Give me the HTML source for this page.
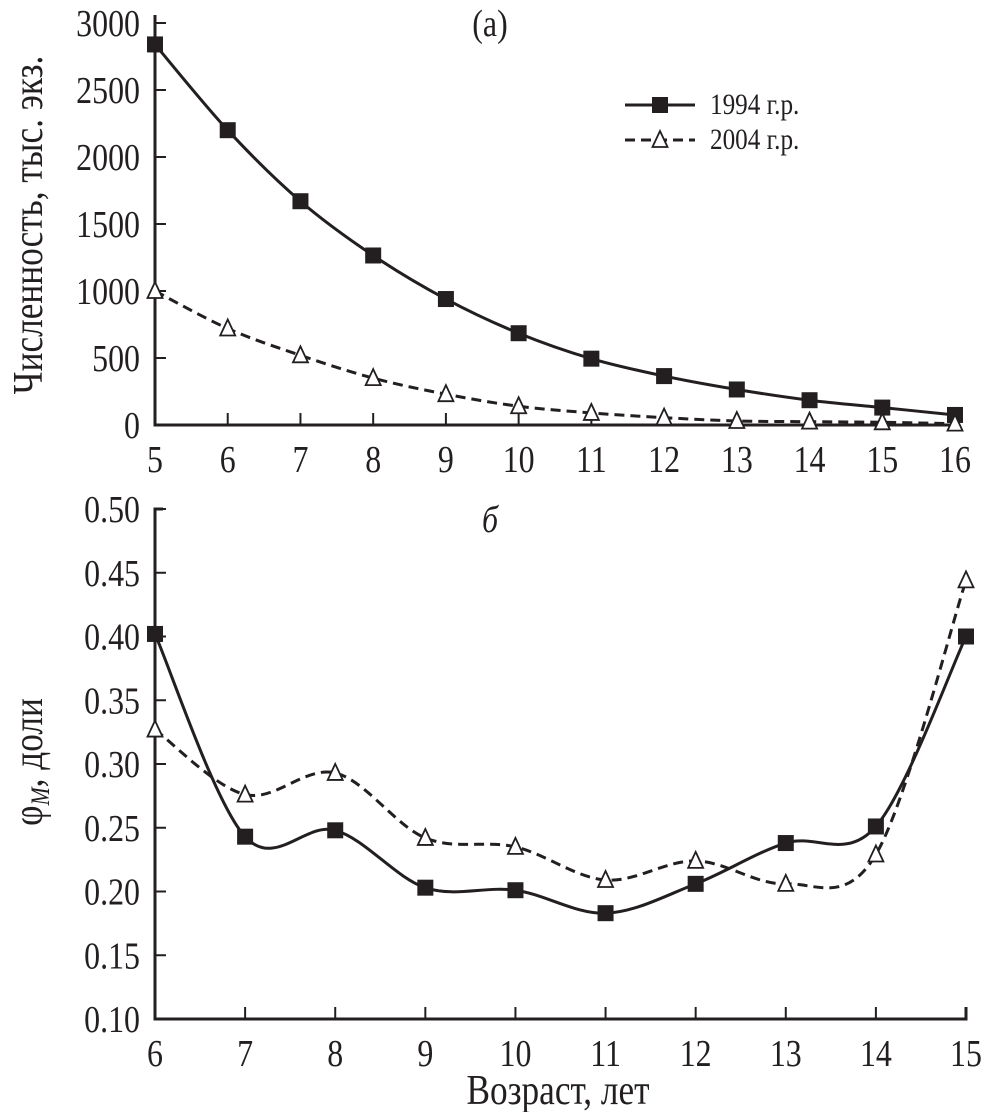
<!DOCTYPE html>
<html><head><meta charset="utf-8"><style>
body{margin:0;background:#fff}
svg text{font-family:"Liberation Serif",serif;fill:#231f20}
</style></head><body>
<svg id="c" width="986" height="1112" xmlns="http://www.w3.org/2000/svg"></svg>
<script>
const topAges=[5,6,7,8,9,10,11,12,13,14,15,16];
const topS1994=[2840,2200,1670,1265,940,685,495,365,265,185,130,75];
const topS2004=[1000,720,520,350,230,140,90,55,30,25,20,10];
const topYTicks=[0,500,1000,1500,2000,2500,3000];
const botAges=[6,7,8,9,10,11,12,13,14,15];
const bot1994=[0.402,0.243,0.248,0.203,0.201,0.183,0.206,0.238,0.251,0.400];
const bot2004=[0.327,0.276,0.293,0.242,0.235,0.209,0.224,0.206,0.229,0.444];
const botYTicks=[0.10,0.15,0.20,0.25,0.30,0.35,0.40,0.45,0.50];

const svg=document.getElementById('c');
const NS='http://www.w3.org/2000/svg';
function mk(t,a,p){const e=document.createElementNS(NS,t);for(const k in a)e.setAttribute(k,a[k]);(p||svg).appendChild(e);return e;}
function txt(s,x,y,size,anchor,extra,rot){const tr='translate('+x+','+y+')'+(rot?' rotate(-90)':'')+' scale(0.84,1)';const e=mk('text',Object.assign({x:0,y:0,transform:tr,'font-size':size,'text-anchor':anchor||'middle'},extra||{}));e.textContent=s;return e;}
function smooth(pts){let d='M'+pts[0][0]+','+pts[0][1];for(let i=0;i<pts.length-1;i++){const p0=pts[i-1]||pts[i],p1=pts[i],p2=pts[i+1],p3=pts[i+2]||p2;const c1=[p1[0]+(p2[0]-p0[0])/6,p1[1]+(p2[1]-p0[1])/6],c2=[p2[0]-(p3[0]-p1[0])/6,p2[1]-(p3[1]-p1[1])/6];d+=' C'+c1+' '+c2+' '+p2;}return d;}
function sq(x,y,n){const e=mk('rect',{x:x-8,y:y-8,width:16,height:16,fill:'#231f20'});}
function tri(x,y,n){const e=mk('polygon',{points:(x)+','+(y-9)+' '+(x-7.5)+','+(y+7)+' '+(x+7.5)+','+(y+7),fill:'#fff',stroke:'#231f20','stroke-width':1.8});}
const FS=38;
// ---- top panel ----
const tx=v=>155+(v-5)*(955-155)/11, ty=v=>425-v*(402/3000);
mk('path',{d:'M155,15 L155,425 L960,425',fill:'none',stroke:'#231f20','stroke-width':3});
topAges.forEach(a=>{mk('line',{x1:tx(a),y1:425,x2:tx(a),y2:413,stroke:'#231f20','stroke-width':2});const t=txt(a,tx(a),472,FS);});
topYTicks.forEach(v=>{mk('line',{x1:155,y1:ty(v),x2:166,y2:ty(v),stroke:'#231f20','stroke-width':2});const t=txt(v,140,ty(v)+13,FS,'end');});
mk('path',{d:smooth(topAges.map((a,i)=>[tx(a),ty(topS1994[i])])),fill:'none',stroke:'#231f20','stroke-width':3});
mk('path',{d:smooth(topAges.map((a,i)=>[tx(a),ty(topS2004[i])])),fill:'none',stroke:'#231f20','stroke-width':3,'stroke-dasharray':'10,6'});
topAges.forEach((a,i)=>sq(tx(a),ty(topS1994[i]),'point-1994'));
topAges.forEach((a,i)=>tri(tx(a),ty(topS2004[i]),'point-2004'));
let t=txt('Численность, тыс. экз.',42,225,42,'middle',{},true);
t=txt('(a)',490,36,FS);
// legend
mk('line',{x1:625,y1:105,x2:695,y2:105,stroke:'#231f20','stroke-width':3});sq(660,105,'legend-marker-1994');
t=txt('1994 г.р.',710,114,30,'start');
mk('line',{x1:625,y1:140,x2:695,y2:140,stroke:'#231f20','stroke-width':3,'stroke-dasharray':'10,6'});tri(660,140,'legend-marker-2004');
t=txt('2004 г.р.',710,149,30,'start');

// ---- bottom panel ----
const bx=v=>155+(v-6)*(966-155)/9, by=v=>1019-(v-0.1)*1275;
mk('path',{d:'M163,509 L155,509 L155,1019 L966,1019 L966,1007',fill:'none',stroke:'#231f20','stroke-width':3});
botAges.forEach(a=>{mk('line',{x1:bx(a),y1:1019,x2:bx(a),y2:1007,stroke:'#231f20','stroke-width':2});t=txt(a,bx(a),1066,FS);});
botYTicks.forEach(v=>{mk('line',{x1:155,y1:by(v),x2:166,y2:by(v),stroke:'#231f20','stroke-width':2});t=txt(v.toFixed(2),140,by(v)+13,FS,'end');});
mk('path',{d:smooth(botAges.map((a,i)=>[bx(a),by(bot1994[i])])),fill:'none',stroke:'#231f20','stroke-width':3});
mk('path',{d:smooth(botAges.map((a,i)=>[bx(a),by(bot2004[i])])),fill:'none',stroke:'#231f20','stroke-width':3,'stroke-dasharray':'10,6'});
botAges.forEach((a,i)=>sq(bx(a),by(bot1994[i]),'point-1994'));
botAges.forEach((a,i)=>tri(bx(a),by(bot2004[i]),'point-2004'));
t=txt('б',490,532,FS,'middle',{'font-style':'italic'});
t=mk('text',{transform:'translate(42,762) rotate(-90) scale(0.84,1)','font-size':42,'text-anchor':'middle'});t.innerHTML='φ<tspan font-size="26" font-style="italic" dy="7">M</tspan><tspan dy="-7">, доли</tspan>';
t=txt('Возраст, лет',558,1104,42);
</script>
</body></html>
